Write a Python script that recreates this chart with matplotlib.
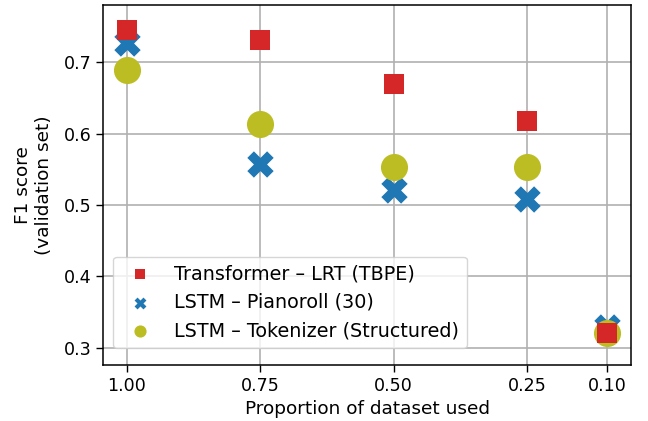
import numpy as np
import matplotlib
matplotlib.use("Agg")
import matplotlib.pyplot as plt

# proportion of the dataset used for training
proportions = [1.00, 0.75, 0.50, 0.25, 0.10]

# F1 scores
f1_transformer = [0.745, 0.731, 0.669, 0.618, 0.321]
f1_pianoroll = [0.727, 0.557, 0.521, 0.508, 0.329]
f1_tokenizer = [0.689, 0.614, 0.553, 0.553, 0.321]

labels = ["Transformer \u2013 LRT (TBPE)",
          "LSTM \u2013 Pianoroll (30)",
          "LSTM \u2013 Tokenizer (Structured)"]

fig, ax = plt.subplots(figsize=(6.48, 4.21), dpi=100)
fig.subplots_adjust(left=0.159, right=0.974, top=0.988, bottom=0.133)

# draw order: crosses, then circles, then squares on top
h_pr = ax.scatter(proportions, f1_pianoroll, marker="X", s=360, color="#1f77b4",
                  linewidths=0, zorder=3)
h_tok = ax.scatter(proportions, f1_tokenizer, marker="o", s=380, color="#bcbd22",
                   linewidths=0, zorder=3)
h_tr = ax.scatter(proportions, f1_transformer, marker="s", s=210, color="#d62728",
                  linewidths=0, zorder=3)

ax.set_xticks(proportions)
ax.set_xticklabels(["%.2f" % p for p in proportions])
ax.set_xlim(1.045, 0.055)
ax.set_ylim(0.276, 0.78)
ax.set_yticks([0.3, 0.4, 0.5, 0.6, 0.7])
ax.tick_params(labelsize=12.6, length=5, width=1)
ax.grid(True, color="#b0b0b0", linewidth=1.2)
ax.set_axisbelow(True)
for sp in ax.spines.values():
    sp.set_linewidth(1.1)

ax.set_xlabel("Proportion of dataset used", fontsize=13.3)
ax.set_ylabel("F1 score\n(validation set)", fontsize=13.3, labelpad=7.5)

ax.legend([h_tr, h_pr, h_tok], labels, loc="lower left",
          bbox_to_anchor=(0.019, 0.047), borderaxespad=0,
          markerscale=0.45, fontsize=13.8)

fig.savefig("out.png", dpi=100)
